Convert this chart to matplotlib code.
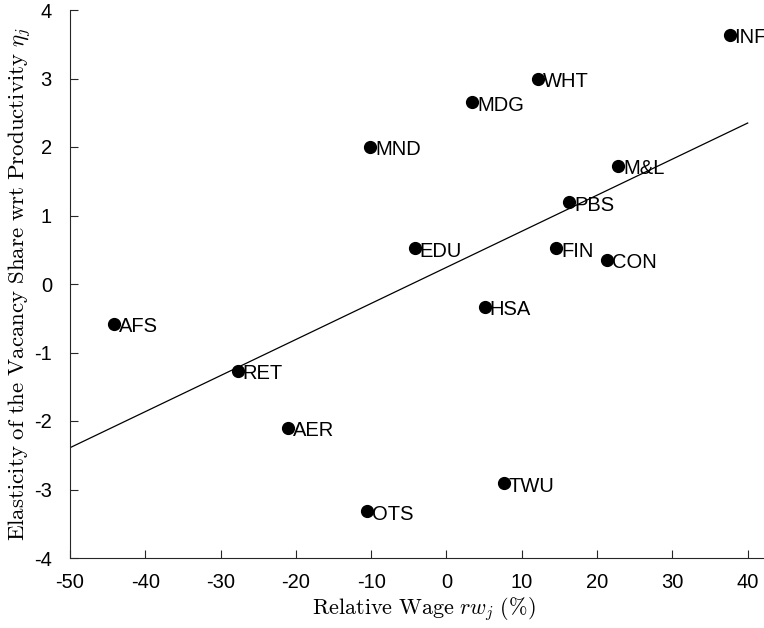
import numpy as np
import matplotlib
matplotlib.use("Agg")
import matplotlib.pyplot as plt

plt.rcParams['mathtext.fontset'] = 'cm'
plt.rcParams['font.family'] = ['Liberation Sans', 'DejaVu Sans']
plt.rcParams['axes.unicode_minus'] = False

# industry codes and values
industrias = ["INF", "WHT", "MDG", "MND", "M&L", "PBS", "EDU", "FIN", "CON",
              "HSA", "AFS", "RET", "AER", "TWU", "OTS"]
salario_relativo = [37.6, 12.2, 3.4, -10.1, 22.8, 16.3, -4.2, 14.6, 21.3,
                    5.1, -44.1, -27.7, -21.1, 7.6, -10.5]
elasticidad = [3.64, 2.99, 2.65, 2.0, 1.72, 1.19, 0.52, 0.52, 0.35,
               -0.33, -0.58, -1.27, -2.10, -2.91, -3.32]

# fitted line end points
recta_x = [-50, 40]
recta_y = [-2.39, 2.35]

fig = plt.figure(figsize=(7.64, 6.28), dpi=100)
ax = fig.add_axes([70/764, 70/628, 753/764, 548/628])

ax.plot(recta_x, recta_y, color='black', linewidth=0.9)
ax.plot(salario_relativo, elasticidad, linestyle='', marker='o',
        markersize=8.5, color='black')

for nombre, xv, yv in zip(industrias, salario_relativo, elasticidad):
    ax.annotate(nombre, (xv, yv), xytext=(3.5, -2), textcoords='offset points',
                ha='left', va='center', fontsize=14.5)

ax.set_xlim(-50, 50)
ax.set_ylim(-4, 4)
ax.set_xticks(np.arange(-50, 41, 10))
ax.set_yticks(np.arange(-4, 5, 1))

ax.set_xlabel(r'$\mathrm{Relative\ Wage}\ rw_j\ \mathrm{(\%)}$', fontsize=16)
ax.set_ylabel(r'$\mathrm{Elasticity\ of\ the\ Vacancy\ Share\ wrt\ Productivity}\ \eta_j$',
              fontsize=16.5)
ax.xaxis.set_label_coords((424 - 70) / 753, -37 / 548)
ax.yaxis.set_label_coords(-36 / 753, (558 - 284) / 548)

ax.spines['top'].set_visible(False)
ax.spines['right'].set_visible(False)
ax.spines['left'].set_color('#262626')
ax.spines['bottom'].set_color('#262626')
ax.tick_params(direction='in', length=6, width=0.8, labelsize=14.5, colors='#262626',
               labelcolor='black')
ax.tick_params(axis='x', pad=11)
ax.tick_params(axis='y', pad=13)

fig.savefig("out.png", dpi=100)
